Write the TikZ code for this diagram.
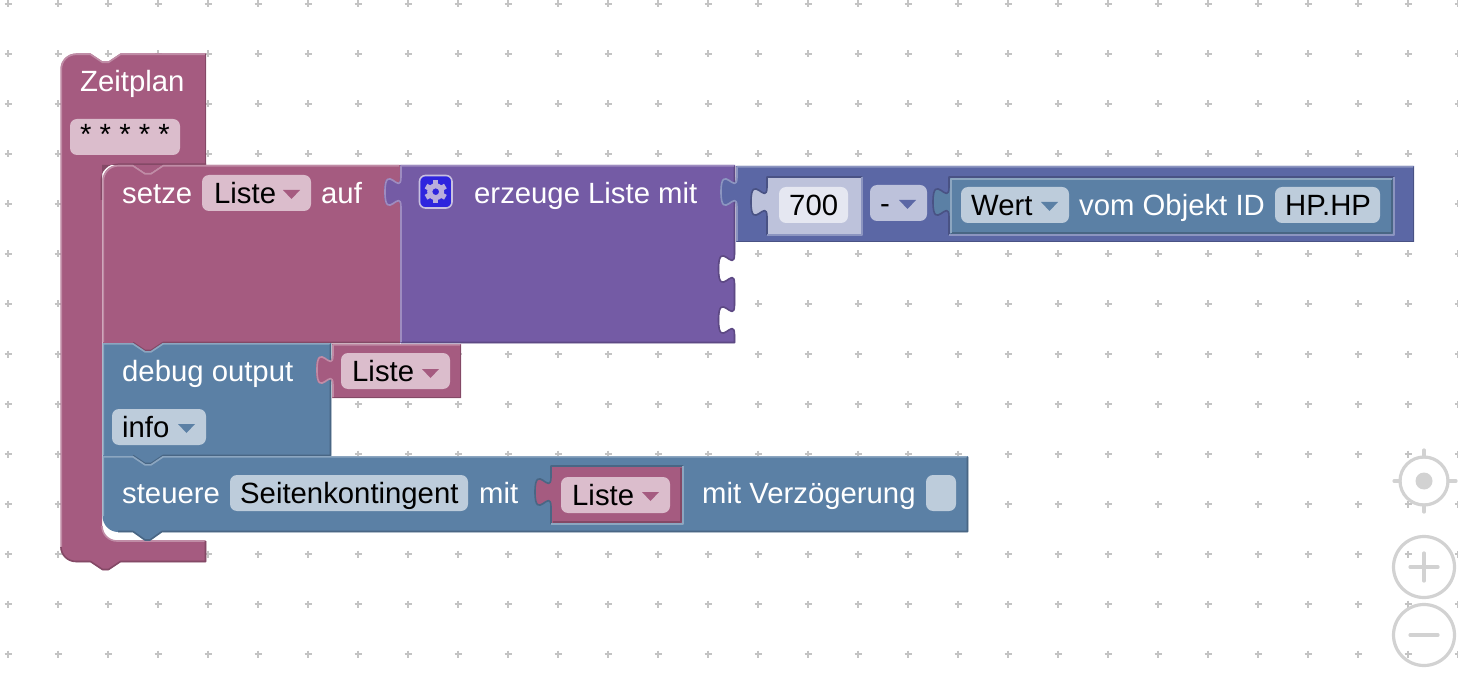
\documentclass[tikz,border=0pt]{standalone}
\usepackage{fontspec}
\setmainfont{Liberation Sans}
\definecolor{pk}{HTML}{A55B80}\definecolor{pkL}{HTML}{C08CA6}\definecolor{pkD}{HTML}{844966}\definecolor{pkF}{HTML}{DBBDCC}
\definecolor{pu}{HTML}{745BA5}\definecolor{puL}{HTML}{9E8CC0}\definecolor{puD}{HTML}{5D4984}
\definecolor{ma}{HTML}{5B67A5}\definecolor{maL}{HTML}{8C95C0}\definecolor{maD}{HTML}{495284}\definecolor{maF}{HTML}{BDC2DB}\definecolor{maN}{HTML}{E5E7F1}
\definecolor{he}{HTML}{5B80A5}\definecolor{heL}{HTML}{8CA6C0}\definecolor{heD}{HTML}{496684}\definecolor{heF}{HTML}{BDCCDB}
\definecolor{dotc}{HTML}{C4C4C4}\definecolor{ctl}{HTML}{D2D2D2}
\definecolor{gearbg}{HTML}{2E25DE}\definecolor{gearfg}{HTML}{B9AEDC}\definecolor{gearbd}{HTML}{C8C0E0}
\newcommand{\tabd}[2]{.. controls (#1,#2+20) and (#1-16,#2-16) .. (#1-16,#2+15) .. controls (#1-16,#2+46) and (#1,#2+10) .. (#1,#2+30)}
\newcommand{\tabu}[2]{.. controls (#1,#2+10) and (#1-16,#2+46) .. (#1-16,#2+15) .. controls (#1-16,#2-16) and (#1,#2+20) .. (#1,#2)}
\newcommand{\notch}[2]{-- (#1,#2) -- (#1+12,#2+8) -- (#1+18,#2+8) -- (#1+30,#2)}
\newcommand{\bump}[2]{-- (#1+30,#2) -- (#1+18,#2+8) -- (#1+12,#2+8) -- (#1,#2)}
% corner: #1,#2 = sharp corner point; #3,#4 = start; #5,#6 = end
\newcommand{\crn}[6]{.. controls (#3+.55*#1-.55*#3,#4+.55*#2-.55*#4) and (#5+.55*#1-.55*#5,#6+.55*#2-.55*#6) .. (#5,#6)}
\tikzset{
  txt/.style={inner sep=0pt,anchor=base west,font=\fontsize{29.3}{31}\selectfont,text=white},
  ftxt/.style={txt,text=black},
  fld/.style={rounded corners=7pt},
  ctlline/.style={draw=ctl,line width=3.2pt,line cap=round},
  edge/.style={line width=1.6pt,line join=round}
}
\newcommand{\tri}[3]{\fill[#3] (#1,#2) -- (#1+17,#2) -- (#1+8.5,#2+9) -- cycle;}
\begin{document}
\begin{tikzpicture}[x=1pt,y=-1pt]
\useasboundingbox (0,0) rectangle (1458,684);
\fill[white] (0,0) rectangle (1458,684);
% grid dots
\foreach \i in {0,...,29}{\foreach \j in {0,...,13}{
  \draw[dotc,line width=1.7pt] (8+50*\i-3.5,4+50*\j) -- (8+50*\i+3.5,4+50*\j) (8+50*\i,4+50*\j-3.5) -- (8+50*\i,4+50*\j+3.5);
}}
% Zeitplan C block
\fill[pk] (60.5,69) \crn{60.5}{53.5}{60.5}{69}{76}{53.5} \notch{90.5}{53.5} -- (206,53.5) -- (206,165) -- (163,165) -- (151,173) -- (145,173) -- (133,165) -- (102,165) -- (102,526) \crn{102}{541}{102}{526}{117}{541} -- (206,541) -- (206,562) -- (120.5,562) -- (108.5,570) -- (102.5,570) -- (90.5,562) -- (76,562) \crn{60.5}{562}{76}{562}{60.5}{547} -- cycle;
\draw[pkL,edge] (61.3,547) -- (61.3,69) \crn{61.3}{54.3}{61.3}{69}{76}{54.3} -- (90.5,54.3) -- (102.5,62.3) -- (108.5,62.3) -- (120.5,54.3) -- (205,54.3);
\draw[pkD,edge] (205.5,54) -- (205.5,165);
\draw[pkL,edge] (102,526) \crn{102}{541}{102}{526}{117}{541} -- (205.5,541);
\draw[pkD,edge] (205.5,541) -- (205.5,561.5) -- (120.5,561.5) -- (108.5,569.5) -- (102.5,569.5) -- (90.5,561.5) -- (76,561.5) \crn{61}{561.5}{76}{561.5}{61}{547};
\node[txt] (nzeit) at (80,91.5) {Zeitplan};
\fill[pkF,fld] (70,119) rectangle (180,155);
\node[ftxt] (nstar) at (80,144.5) {* * * * *};
% setze
\fill[pkD] (102,181) -- (102,165) -- (206,165) -- (206,163.5) -- (118,163.5) \crn{100.5}{163.5}{118}{163.5}{100.5}{181} -- (100.5,200) -- (102,200) -- cycle;
\fill[pk] (102.5,181) \crn{102.5}{165}{102.5}{181}{118}{165} \notch{133}{165} -- (400,165) -- (400,343) \bump{133}{343} -- (102.5,343) -- cycle;
\draw[pkL,edge] (103.3,342) -- (103.3,181) \crn{103.3}{165.8}{103.3}{181}{118}{165.8} -- (133,165.8) -- (145,173.8) -- (151,173.8) -- (163,165.8) -- (399,165.8);
\draw[pkD,edge] (400,342.5) -- (163,342.5) -- (151,350.5) -- (145,350.5) -- (133,342.5);
% purple list
\fill[pu] (400,207) \tabu{400}{177} -- (400,165) -- (735,165) -- (735,254) \tabd{735}{254} -- (735,305) \tabd{735}{305} -- (735,343) -- (400,343) -- cycle;
\draw[puD,edge] (734.5,166) -- (734.5,254) \tabd{734.5}{254} -- (734.5,305) \tabd{734.5}{305} -- (734.5,342.5) -- (401,342.5);
\draw[puL,edge] (401,342) -- (401,207) \tabu{401}{177} -- (401,165.8) -- (734,165.8);
% math
\fill[ma] (736,166) -- (1414,166) -- (1414,242) -- (736,242) -- (736,207) \tabu{736}{177} -- cycle;
\draw[maD,edge] (1413.5,167) -- (1413.5,241.5) -- (737,241.5);
\draw[maL,edge] (737,241) -- (737,207) \tabu{737}{177} -- (737,166.8) -- (1413,166.8);
% 700 shadow
\fill[maF] (767,177) -- (862,177) -- (862,235) -- (767,235) -- (767,217) \tabu{767}{187} -- cycle;
\draw[maD,edge] (767,235) -- (767,217) \tabu{767}{187} -- (767,177) -- (862,177);
\draw[maL,edge] (862,177) -- (862,235) -- (767,235);
\fill[maN,fld] (779,187) rectangle (848,223);
\node[ftxt] (n700) at (789,215.5) {700};
% minus dropdown
\fill[maF,fld] (870,185) rectangle (927,221);
\node[ftxt] (nminus) at (880,213.5) {-};
\tri{899}{200}{ma}
% Wert block
\fill[he] (949,177) -- (1394,177) -- (1394,235) -- (949,235) -- (949,217) \tabu{949}{187} -- cycle;
\draw[maD,edge] (949,235) -- (949,217) \tabu{949}{187} -- (949,177) -- (1394,177);
\draw[maL,edge] (1394,177) -- (1394,235) -- (949,235);
\draw[heD,edge] (951,233) -- (1392,233) -- (1392,179);
\draw[heL,edge] (951,233) -- (951,179) -- (1392,179);
\fill[heF,fld] (961,187) rectangle (1069,223);
\node[ftxt] (nwert) at (971,215.5) {Wert};
\tri{1041}{202}{he}
\node[txt] (nvom) at (1079,215.5) {vom Objekt ID};
\fill[heF,fld] (1275,187) rectangle (1380,223);
\node[ftxt] (nhp) at (1285,215.5) {HP.HP};
% setze content
\node[txt] (nsetze) at (122,203.5) {setze};
\fill[pkF,fld] (202,175) rectangle (311,211);
\node[ftxt] (nl1) at (214,203.5) {Liste};
\tri{283}{190}{pk}
\node[txt] (nauf) at (321,203.5) {auf};
% gear
\fill[gearbg,draw=gearbd,line width=1.6pt,rounded corners=6pt] (419.5,175.5) rectangle (452,208);
\foreach \a in {0,60,...,300}{\fill[gearfg,rotate around={\a:(435.7,191.7)}] (433,180.5) rectangle (438.4,187);}
\fill[gearfg,even odd rule] (435.7,191.7) circle[radius=8.5] (435.7,191.7) circle[radius=3.4];
\node[txt] (nerz) at (474,203.5) {erzeuge Liste mit};
% debug
\fill[he] (102.5,343) \notch{133}{343} -- (331,343) -- (331,456) \bump{133}{456} -- (102.5,456) -- cycle;
\draw[heL,edge] (103.3,455) -- (103.3,343.8) -- (133,343.8) -- (145,351.8) -- (151,351.8) -- (163,343.8) -- (330,343.8);
\draw[heD,edge] (330.5,344) -- (330.5,455.5) -- (163,455.5) -- (151,463.5) -- (145,463.5) -- (133,455.5);
\node[txt] (ndeb) at (122,381.5) {debug output};
\fill[heF,fld] (112,409) rectangle (206,445);
\node[ftxt] (ninfo) at (122,437.5) {info};
\tri{178}{424}{he}
% Liste value 1
\fill[pk] (332,344) -- (461,344) -- (461,398) -- (332,398) -- (332,385) \tabu{332}{355} -- cycle;
\draw[pkD,edge] (460.5,345) -- (460.5,397.5) -- (333,397.5);
\draw[pkL,edge] (333,397) -- (333,385) \tabu{333}{355} -- (333,344.8) -- (460,344.8);
\fill[pkF,fld] (341,353) rectangle (450,389);
\node[ftxt] (nl2) at (352,381.5) {Liste};
\tri{422}{369}{pk}
% steuere
\fill[he] (102.5,456) \notch{133}{456} -- (968,456) -- (968,532) -- (162,532) -- (150,540.5) -- (145,540.5) -- (133,532) -- (118,532) \crn{102.5}{532}{118}{532}{102.5}{516} -- cycle;
\draw[heL,edge] (103.3,516) -- (103.3,456.8) -- (133,456.8) -- (145,464.8) -- (151,464.8) -- (163,456.8) -- (967,456.8);
\draw[heD,edge] (967.5,457) -- (967.5,531.5) -- (162,531.5) -- (150,540) -- (145,540) -- (133,531.5) -- (118,531.5);
\node[txt] (nst) at (122,503.5) {steuere};
\fill[heF,fld] (230,475) rectangle (468,511);
\node[ftxt] (nsei) at (240,503.5) {Seitenkontingent};
\node[txt] (nmit) at (479,503.5) {mit};
% Liste value 2
\fill[pk] (551,466) -- (683,466) -- (683,524) -- (551,524) -- (551,507) \tabu{551}{477} -- cycle;
\draw[heD,edge] (551,524) -- (551,507) \tabu{551}{477} -- (551,466) -- (683,466);
\draw[heL,edge] (683,466) -- (683,524) -- (551,524);
\draw[pkD,edge] (553,522) -- (681,522) -- (681,468);
\fill[pkF,fld] (561,477) rectangle (670,513);
\node[ftxt] (nl3) at (572,505.5) {Liste};
\tri{642}{492}{pk}
\node[txt] (nver) at (702,503.5) {mit Verzögerung};
\fill[heF,fld] (926,475) rectangle (956,511);
% controls
\draw[ctlline] (1424,481) circle[radius=24];
\fill[ctl] (1424,481) circle[radius=8.5];
\draw[ctlline] (1424,450) -- (1424,457) (1424,505) -- (1424,512) (1394,481) -- (1400,481) (1448,481) -- (1456,481);
\draw[ctlline] (1424,567) circle[radius=30.5];
\draw[ctlline] (1410,567) -- (1438,567) (1424,553) -- (1424,581);
\draw[ctlline] (1424,635) circle[radius=30.5];
\draw[ctlline] (1410,635) -- (1438,635);
\end{tikzpicture}
\end{document}
